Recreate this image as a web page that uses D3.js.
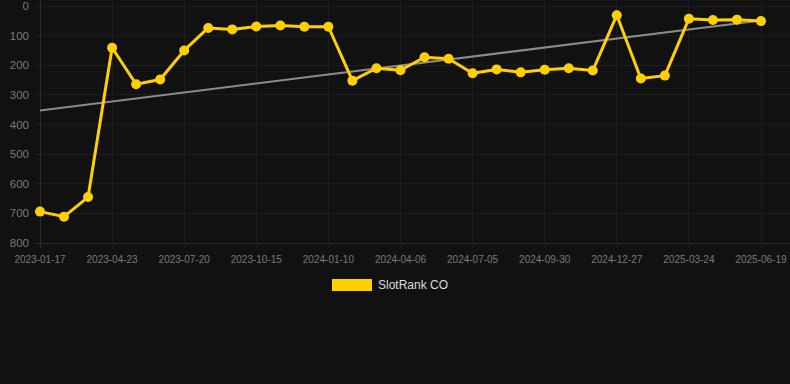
<!DOCTYPE html>
<html><head><meta charset="utf-8">
<script src="https://cdn.jsdelivr.net/npm/d3@7"></script>
<style>
html,body{margin:0;padding:0;background:#111111;}
svg{display:block;}
text{font-family:"Liberation Sans",Arial,Helvetica,sans-serif;}
</style></head>
<body>
<script>
const tickLabels = ["2023-01-17","2023-04-23","2023-07-20","2023-10-15","2024-01-10","2024-04-06","2024-07-05","2024-09-30","2024-12-27","2025-03-24","2025-06-19"];
const rankValues = [694, 711, 645, 141, 264, 248, 150, 74, 79, 69, 66, 70, 70, 252, 210, 217, 173, 178, 227, 214, 224, 215, 210, 218, 31, 245, 235, 43, 47, 46, 51];
const trendValues = [353, 49];
const yTicks = [0,100,200,300,400,500,600,700,800];
const seriesName = "SlotRank CO";

(function(){
const W = 790, H = 384;
const mLeft = 40, mRight = 790, mTop = 6, mBottom = 243;
const svg = d3.select("body").append("svg").attr("width", W).attr("height", H);
svg.append("rect").attr("width", W).attr("height", H).attr("fill", "#111111");

const x = d3.scaleLinear().domain([0, rankValues.length - 1]).range([mLeft, 761]);
const y = d3.scaleLinear().domain([0, 800]).range([mTop, mBottom]);

const g = svg.append("g");
yTicks.forEach(t => {
  g.append("line").attr("x1", mLeft - 5).attr("x2", mRight).attr("y1", y(t)).attr("y2", y(t))
    .attr("stroke", t === 800 ? "#2c2c2c" : "#1e1e1e").attr("stroke-width", 1).attr("shape-rendering","crispEdges");
  g.append("text").attr("x", 29).attr("y", y(t)).attr("dy", "0.35em").attr("text-anchor", "end")
    .attr("fill", "#7a7a7a").attr("font-size", 11.5).text(t);
});
tickLabels.forEach((lab, i) => {
  const xi = x(i * 3);
  g.append("line").attr("x1", xi).attr("x2", xi).attr("y1", 0).attr("y2", mBottom + 5)
    .attr("stroke", i === 0 ? "#2c2c2c" : "#1e1e1e").attr("stroke-width", 1).attr("shape-rendering","crispEdges");
  g.append("text").attr("x", xi).attr("y", 263).attr("text-anchor", "middle")
    .attr("fill", "#7a7a7a").attr("font-size", 10).text(lab);
});

svg.append("line").attr("x1", x(0)).attr("x2", x(rankValues.length - 1))
  .attr("y1", y(trendValues[0])).attr("y2", y(trendValues[1]))
  .attr("stroke", "#8a8a8a").attr("stroke-width", 2);

const line = d3.line().x((d, i) => x(i)).y(d => y(d));
svg.append("path").datum(rankValues).attr("d", line).attr("fill", "none")
  .attr("stroke", "#FFD000").attr("stroke-width", 3).attr("stroke-linejoin", "round");
svg.selectAll("circle.pt").data(rankValues).enter().append("circle")
  .attr("cx", (d, i) => x(i)).attr("cy", d => y(d)).attr("r", 5).attr("fill", "#FFD000");

svg.append("rect").attr("x", 332).attr("y", 279).attr("width", 40).attr("height", 12).attr("fill", "#FFD000");
svg.append("text").attr("x", 378).attr("y", 285).attr("dy", "0.35em").attr("fill", "#dddddd")
  .attr("font-size", 12).text(seriesName);
})();
</script>
</body></html>
